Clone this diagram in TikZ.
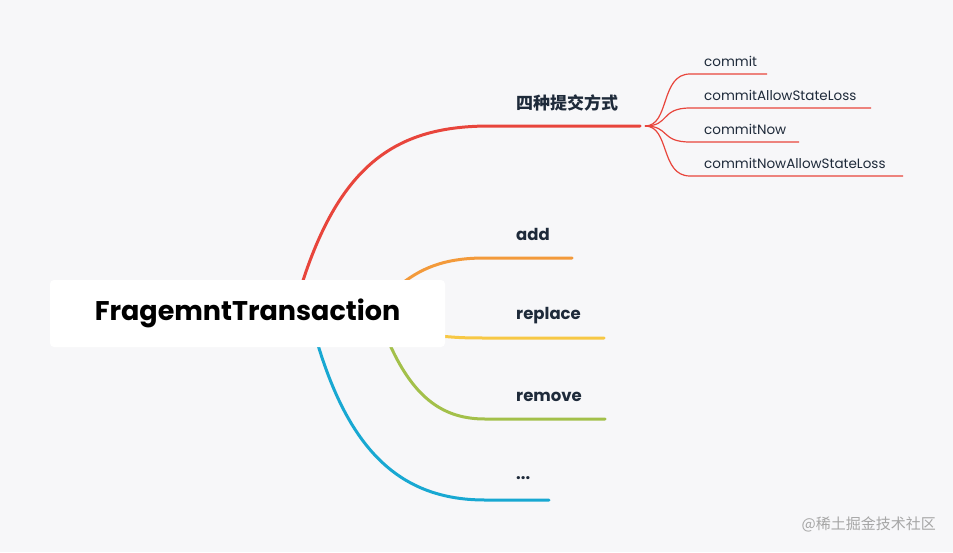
\documentclass[tikz,border=0pt]{standalone}
\usepackage{fontspec}
\setmainfont{Poppins}
\newfontfamily\cjk{Noto Sans CJK SC}
\definecolor{bg}{HTML}{F7F7F9}
\definecolor{cred}{HTML}{E8453C}
\definecolor{corange}{HTML}{F39A3B}
\definecolor{cyellow}{HTML}{F7C845}
\definecolor{cgreen}{HTML}{A3C04A}
\definecolor{cblue}{HTML}{18A8D2}
\definecolor{txt}{HTML}{1E2A3A}
\begin{document}
\begin{tikzpicture}[x=1pt,y=-1pt,
  lbl/.style={anchor=west,inner sep=0,text=txt,font=\fontsize{16.5}{19}\selectfont\bfseries},
  sub/.style={anchor=west,inner sep=0,text=txt,font=\fontsize{13.5}{16}\selectfont},
  br/.style={line width=3pt,line cap=round},
  sb/.style={line width=1.2pt,cred}]
\fill[bg] (0,0) rectangle (953,552);
\useasboundingbox (0,0) rectangle (953,552);
% main branches
\draw[br,cred] (300,290) .. controls (340,160) and (400,126) .. (490,126) -- (640,126);
\draw[br,corange] (400,285) .. controls (425,265) and (450,258) .. (485,258) -- (572,258);
\draw[br,cyellow] (440,336) .. controls (460,338) and (470,338) .. (490,338) -- (604,338);
\draw[br,cgreen] (390,345) .. controls (415,400) and (445,419) .. (485,419) -- (605,419);
\draw[br,cblue] (318,345) .. controls (350,450) and (400,500) .. (485,500) -- (549,500);
% sub branches
\coordinate (s) at (645,126);
\draw[sb] (s) .. controls (670,126) and (660,74) .. (690,74) -- (767,74);
\draw[sb] (s) .. controls (670,126) and (660,108) .. (690,108) -- (871,108);
\draw[sb] (s) .. controls (670,126) and (660,142) .. (690,142) -- (799,142);
\draw[sb] (s) .. controls (670,126) and (660,176) .. (690,176) -- (903,176);
% root
\node[fill=white,rounded corners=4pt,minimum width=395pt,minimum height=67pt,inner sep=0,
  font=\fontsize{27}{32}\selectfont\bfseries,text=black] (root) at (247.5,313.5) {FragemntTransaction};
\node[lbl,font=\fontsize{17}{20}\selectfont\bfseries\cjk] (t) at (516,103) {四种提交方式};
\node[lbl] (a) at (516,234) {add};
\node[lbl] (r) at (516,316) {replace};
\node[lbl] (m) at (516,397) {remove};
\node[lbl] (d) at (516,478) {...};
\node[sub] (c1) at (704,61) {commit};
\node[sub] (c2) at (704,95) {commitAllowStateLoss};
\node[sub] (c3) at (704,129) {commitNow};
\node[sub] (c4) at (704,163) {commitNowAllowStateLoss};
\node[anchor=east,inner sep=0,text=gray!70,font=\fontsize{15}{18}\selectfont\cjk] (w) at (936,524) {@稀土掘金技术社区};
\end{tikzpicture}
\end{document}
